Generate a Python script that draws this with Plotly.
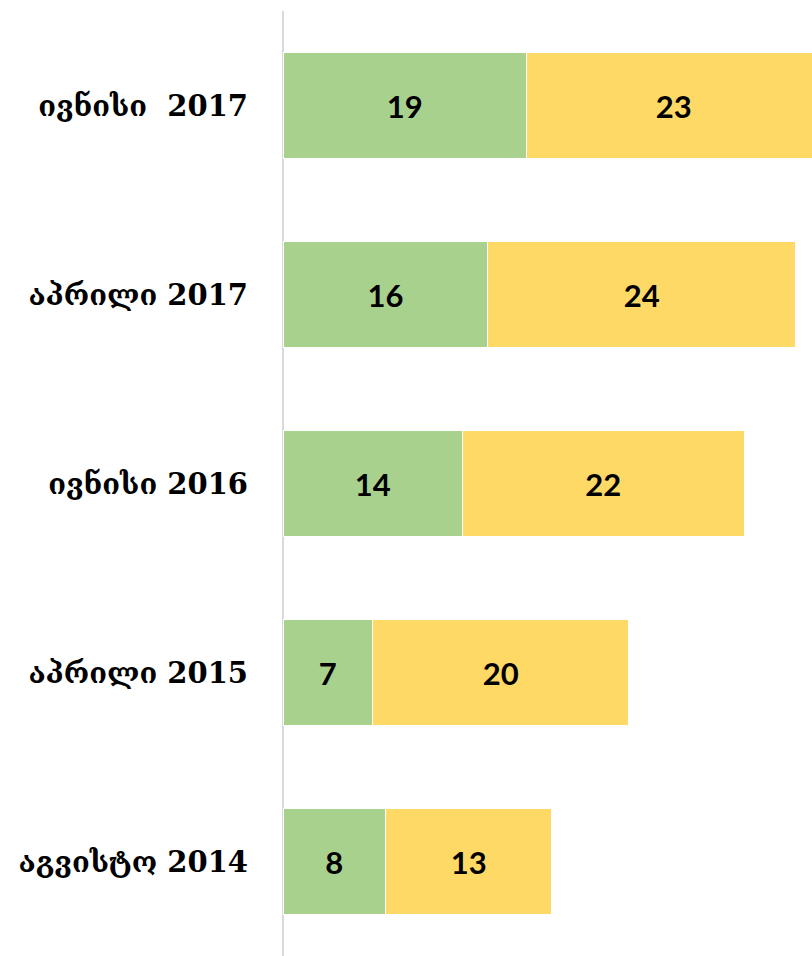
import plotly.graph_objects as go

categories = ["აგვისტო 2014", "აპრილი 2015", "ივნისი 2016", "აპრილი 2017", "ივნისი  2017"]
green_values = [8, 7, 14, 16, 19]
yellow_values = [13, 20, 22, 24, 23]

label_font = dict(family="Lato, Open Sans, sans-serif", size=31, color="#000000", weight="bold")

fig = go.Figure()
fig.add_trace(go.Bar(
    y=categories, x=green_values, orientation="h",
    marker=dict(color="#A9D18E", line=dict(color="#ffffff", width=1)),
    text=[str(v) for v in green_values], textposition="inside",
    insidetextanchor="middle", constraintext="none",
    textfont=label_font, showlegend=False, hoverinfo="skip",
))
fig.add_trace(go.Bar(
    y=categories, x=yellow_values, orientation="h",
    marker=dict(color="#FFD966", line=dict(color="#ffffff", width=1)),
    text=[str(v) for v in yellow_values], textposition="inside",
    insidetextanchor="middle", constraintext="none",
    textfont=label_font, showlegend=False, hoverinfo="skip",
))

fig.update_layout(
    barmode="stack",
    bargap=0.444,
    width=812, height=956,
    margin=dict(l=283, r=0, t=11, b=0),
    paper_bgcolor="#ffffff", plot_bgcolor="#ffffff",
)
fig.update_xaxes(range=[0, 41.3], showgrid=False, showticklabels=False,
                 zeroline=True, zerolinecolor="#d9d9d9", zerolinewidth=1.5,
                 fixedrange=True)
fig.update_yaxes(categoryorder="array", categoryarray=categories,
                 showgrid=False, showline=False, ticks="",
                 ticklabelstandoff=34, fixedrange=True,
                 tickfont=dict(family="DejaVu Serif, serif", size=29, color="#000000", weight="bold"))

fig.write_html(
    "out.html",
    config={"displayModeBar": False, "staticPlot": True},
    post_script="document.body.style.margin='0';document.body.style.overflow='hidden';",
)
